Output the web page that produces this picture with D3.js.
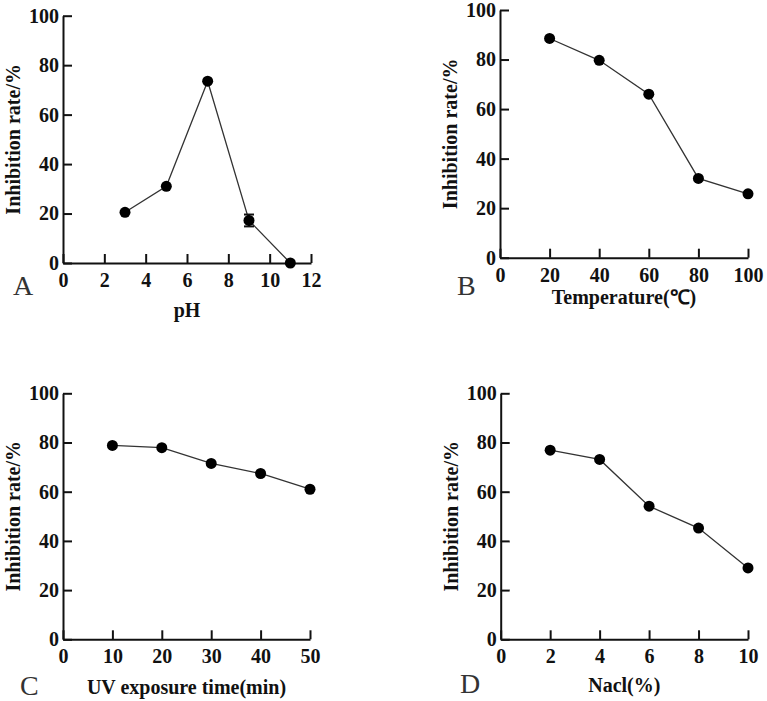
<!DOCTYPE html>
<html>
<head>
<meta charset="utf-8">
<script src="https://cdn.jsdelivr.net/npm/d3@7"></script>
<style>
  body { margin: 0; background: #fff; }
  text { font-family: "Liberation Serif", "Times New Roman", serif; }
</style>
</head>
<body>
<div id="chart"></div>
<script>
// values
var phX = [3, 5, 7, 9, 11];
var phY = [20.5, 31, 73.5, 17.2, 0];
var phErr = [0, 0, 0, 2.4, 0];

var tempX = [20, 40, 60, 80, 100];
var tempY = [88.5, 79.7, 66, 32, 25.8];

var uvX = [10, 20, 30, 40, 50];
var uvY = [78.8, 77.9, 71.5, 67.4, 61];

var naclX = [2, 4, 6, 8, 10];
var naclY = [76.9, 73.1, 54.1, 45.2, 29];

var yTicks = [0, 20, 40, 60, 80, 100];

var panels = [
  { letter: "A", xs: phX, ys: phY, err: phErr, xMax: 12, xTicks: [0, 2, 4, 6, 8, 10, 12], xLabel: "pH",
    left: 63, right: 311, top: 15.7, bottom: 263, labelY: 317, letterX: 13, letterY: 295 },
  { letter: "B", xs: tempX, ys: tempY, err: null, xMax: 100, xTicks: [0, 20, 40, 60, 80, 100], xLabel: "Temperature(\u2103)",
    left: 500, right: 748, top: 10, bottom: 257.7, labelY: 304, letterX: 457, letterY: 295 },
  { letter: "C", xs: uvX, ys: uvY, err: null, xMax: 50, xTicks: [0, 10, 20, 30, 40, 50], xLabel: "UV exposure time(min)",
    left: 63, right: 310, top: 393.3, bottom: 639.3, labelY: 694, letterX: 20, letterY: 695 },
  { letter: "D", xs: naclX, ys: naclY, err: null, xMax: 10, xTicks: [0, 2, 4, 6, 8, 10], xLabel: "Nacl(%)",
    left: 500.7, right: 748, top: 393.3, bottom: 639.3, labelY: 692, letterX: 460, letterY: 693 }
];

var svg = d3.select("#chart").append("svg").attr("width", 767).attr("height", 701);

panels.forEach(function(p) {
  var x = d3.scaleLinear().domain([0, p.xMax]).range([p.left, p.right]);
  var y = d3.scaleLinear().domain([0, 100]).range([p.bottom, p.top]);

  var g = svg.append("g");

  var xAxis = g.append("g")
    .attr("transform", "translate(0," + p.bottom + ")")
    .call(d3.axisBottom(x).tickValues(p.xTicks).tickSize(-9).tickSizeOuter(0).tickPadding(10));
  var yAxis = g.append("g")
    .attr("transform", "translate(" + p.left + ",0)")
    .call(d3.axisLeft(y).tickValues(yTicks).tickSize(-9).tickSizeOuter(0).tickPadding(4));

  [xAxis, yAxis].forEach(function(a) {
    a.select(".domain").attr("stroke", "#111").attr("stroke-width", 2);
    a.selectAll(".tick line").attr("stroke", "#111").attr("stroke-width", 2);
    a.selectAll(".tick text")
      .attr("fill", "#111")
      .style("font-family", "'Liberation Serif', 'Times New Roman', serif")
      .style("font-weight", "bold")
      .style("font-size", "20px");
  });

  var pts = p.xs.map(function(d, i) { return { x: d, y: p.ys[i], e: p.err ? p.err[i] : 0 }; });

  var line = d3.line().x(function(d) { return x(d.x); }).y(function(d) { return y(d.y); });
  g.append("path").datum(pts)
    .attr("d", line)
    .attr("fill", "none")
    .attr("stroke", "#333")
    .attr("stroke-width", 1.3);

  // error bars
  var eb = g.selectAll(".err").data(pts.filter(function(d) { return d.e > 0; })).enter().append("g");
  eb.append("line")
    .attr("x1", function(d) { return x(d.x); }).attr("x2", function(d) { return x(d.x); })
    .attr("y1", function(d) { return y(d.y + d.e); }).attr("y2", function(d) { return y(d.y - d.e); })
    .attr("stroke", "#111").attr("stroke-width", 2);
  [1, -1].forEach(function(s) {
    eb.append("line")
      .attr("x1", function(d) { return x(d.x) - 5; }).attr("x2", function(d) { return x(d.x) + 5; })
      .attr("y1", function(d) { return y(d.y + s * d.e); }).attr("y2", function(d) { return y(d.y + s * d.e); })
      .attr("stroke", "#111").attr("stroke-width", 2);
  });

  g.selectAll(".dot").data(pts).enter().append("circle")
    .attr("cx", function(d) { return x(d.x); })
    .attr("cy", function(d) { return y(d.y); })
    .attr("r", 5.5)
    .attr("fill", "#000");

  // axis titles
  g.append("text")
    .attr("transform", "translate(" + (p.left - 43) + "," + ((p.top + p.bottom) / 2) + ") rotate(-90)")
    .attr("text-anchor", "middle")
    .attr("font-weight", "bold")
    .attr("font-size", 20)
    .attr("fill", "#111")
    .text("Inhibition rate/%");

  g.append("text")
    .attr("x", (p.left + p.right) / 2)
    .attr("y", p.labelY)
    .attr("text-anchor", "middle")
    .attr("font-weight", "bold")
    .attr("font-size", 20)
    .attr("fill", "#111")
    .text(p.xLabel);

  g.append("text")
    .attr("x", p.letterX)
    .attr("y", p.letterY)
    .attr("font-size", 28)
    .attr("fill", "#333")
    .text(p.letter);
});
</script>
</body>
</html>
